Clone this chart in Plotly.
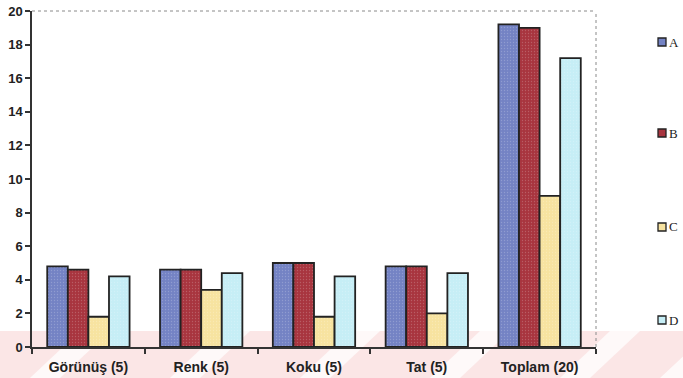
import plotly.graph_objects as go

categories = ["Görünüş (5)", "Renk (5)", "Koku (5)", "Tat (5)", "Toplam (20)"]
series_names = ["A", "B", "C", "D"]
values_a = [4.8, 4.6, 5.0, 4.8, 19.2]
values_b = [4.6, 4.6, 5.0, 4.8, 19.0]
values_c = [1.8, 3.4, 1.8, 2.0, 9.0]
values_d = [4.2, 4.4, 4.2, 4.4, 17.2]
y_ticks = [0, 2, 4, 6, 8, 10, 12, 14, 16, 18, 20]

colors = ["#7483c4", "#a8353f", "#f7e3a0", "#c6eef6"]
all_values = [values_a, values_b, values_c, values_d]

W, H = 683, 378
ml, mr, mt, mb = 32, 87, 11, 31
pw = W - ml - mr
ph = H - mt - mb


def px_x(x):
    return (x - ml) / pw


def px_y(y):
    return (H - mb - y) / ph


fig = go.Figure()
for i, (name, vals) in enumerate(zip(series_names, all_values)):
    fig.add_trace(go.Bar(
        x=categories, y=vals, name=name, showlegend=False,
        marker=dict(color=colors[i], line=dict(color="#222222", width=1.8),
                    pattern=dict(shape=".", size=3, solidity=0.15,
                                 fgcolor="#ffffff", fgopacity=0.2)),
    ))

shapes = []
annotations = []
# faint pink band along the bottom with light diagonal stripes
band_top = px_y(331)
shapes.append(dict(type="rect", xref="paper", yref="paper",
                   x0=px_x(0), x1=px_x(W), y0=px_y(H), y1=band_top,
                   fillcolor="#fbe6e6", line=dict(width=0), layer="below"))
for sx in [30, 170, 300, 430, 560, 660]:
    path = "M {a},{b} L {c},{b} L {d},{e} L {f},{e} Z".format(
        a=px_x(sx), b=px_y(H), c=px_x(sx + 30),
        d=px_x(sx + 80), e=band_top, f=px_x(sx + 50))
    shapes.append(dict(type="path", xref="paper", yref="paper", path=path,
                       fillcolor="#ffffff", line=dict(width=0), layer="below",
                       opacity=0.75))
# dotted frame on top and right of the plot area
shapes.append(dict(type="line", xref="paper", yref="paper", x0=0, x1=1, y0=1, y1=1,
                   line=dict(color="#8a8a8a", width=1, dash="dot")))
shapes.append(dict(type="line", xref="paper", yref="paper", x0=1, x1=1, y0=0, y1=1,
                   line=dict(color="#8a8a8a", width=1, dash="dot")))

# legend: small swatches with serif letters, spread down the right side
legend_rows = [42, 133, 227, 320]
for name, col, yc in zip(series_names, colors, legend_rows):
    shapes.append(dict(type="rect", xref="paper", yref="paper",
                       x0=px_x(658), x1=px_x(666), y0=px_y(yc + 4), y1=px_y(yc - 4),
                       fillcolor=col, line=dict(color="#222", width=1.3)))
    annotations.append(dict(xref="paper", yref="paper", x=px_x(667), y=px_y(yc),
                            xanchor="left", yanchor="middle", text=name,
                            showarrow=False,
                            font=dict(family="Liberation Serif, Times New Roman, serif",
                                      size=13, color="#222")))

tick_font = dict(family="Arial, Liberation Sans, sans-serif", size=13, color="#222",
                 weight="bold")

fig.update_layout(
    width=W, height=H,
    margin=dict(l=ml, r=mr, t=mt, b=mb, autoexpand=False),
    paper_bgcolor="white", plot_bgcolor="rgba(0,0,0,0)",
    barmode="group", bargap=0.27, bargroupgap=0,
    shapes=shapes, annotations=annotations,
    showlegend=False,
    xaxis=dict(showline=True, linecolor="#333", linewidth=1.5,
               ticks="outside", tickson="boundaries", ticklen=5, tickcolor="#333",
               tickwidth=1.5, ticklabelstandoff=6,
               tickfont=dict(tick_font, size=14),
               showgrid=False, zeroline=False),
    yaxis=dict(range=[0, 20], tickvals=y_ticks, showline=True, linecolor="#333",
               linewidth=1.5, ticks="outside", ticklen=5, tickcolor="#333", tickwidth=1.5,
               tickfont=tick_font,
               showgrid=False, zeroline=False),
    font=dict(family="Arial, Liberation Sans, sans-serif"),
)

fig.write_html("out.html")
